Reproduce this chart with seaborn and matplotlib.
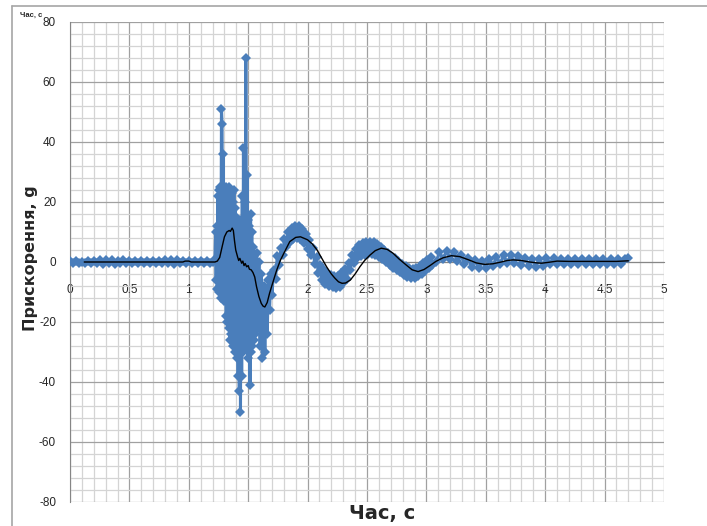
import numpy as np
import pandas as pd
import matplotlib
matplotlib.use("Agg")
import matplotlib.pyplot as plt
from matplotlib.ticker import MultipleLocator
from matplotlib.lines import Line2D
import seaborn as sns

seg1_start, seg1_step = 0.0, 0.025
seg1_vals = [0.3, -0.3, 0.2, -0.4, 0.1, -0.2, 0.3, -0.3, 0.4, -0.2, 0.6, -0.5, 0.8,
             -0.4, 0.7, -0.6, 0.5, -0.3, 0.6, -0.4, 0.3, -0.3, 0.2, -0.2, 0.2, -0.3,
             0.3, -0.2, 0.2, -0.3, 0.3, -0.2, 0.6, -0.4, 0.8, -0.5, 0.6, -0.4, 0.5,
             -0.2, 0.2, -0.3, 0.3, -0.2, 0.2, -0.3, 0.2, -0.2, 0.1]

seg2_start, seg2_step = 1.22, 0.005
seg2_vals = [1, 10, -6, 12, -9, 22, -10, 24, -8, 25, -12, 51, 46, -10, 36, -13, 24,
             -12, 25, -18, 23, -20, 24, -22, 25, -26, 22, -24, 23, -26, 20, -28, 24,
             -30, 18, -25, 15, -32, 12, -38, 10, -43, 14, -50, 6, -38, 22, -30, 38,
             -26, 20, -20, 68, -28, 29, -32, 14, -25, 12, -41, 16, -30, 10, -28, 5,
             -26, 2, -24, -5]

seg3_start, seg3_step = 1.57, 0.01
seg3_vals = [3, -22, 0, -28, -4, -32, -8, -30, -10, -24, -6, -16, -4]

seg4_start, seg4_step = 1.70, 0.015
seg4_vals = [-11, -2.5, -5.5, 2, -1, 4.8, 2.5, 7.8, 5, 10, 6.8, 11.3, 7.6, 11.9, 8,
             11.9, 7.7, 11.1, 6.3, 9.3, 4.3, 7.3, 2.2, 4.7, -0.8, 1.7, -3.7, -0.9,
             -6, -2.6, -7.2, -3.6, -7.9, -4.2, -8.4, -4.5, -8.6, -4.5, -8.3, -3.7,
             -7, -2.3, -5.5, -0.2, -2.8, 2.5, -0.2, 4.5, 1.2, 5.7, 2.1, 6.3, 2.5,
             6.6, 2.7, 6.8, 2.8, 6.7, 2.5, 5.9, 1.8, 5.0, 1.0, 4.1, 0, 3.1, -1.0,
             2.1, -2.0, 1.2, -2.8, 0.4, -3.4, -0.6, -4.2, -1.4, -4.9, -2.0, -5.4,
             -2.3, -5.4, -1.9, -4.8, -1.2, -3.9, -0.2, -2.9, 0.8, -1.9, 1.8, -1.0]

seg5_start, seg5_step = 3.08, 0.03
seg5_vals = [0, 3.2, 1.0, 3.8, 1.1, 3.4, 0.4, 2.5, -0.6, 1.5, -1.6, 0.7, -2.1, 0.5,
             -1.9, 1.0, -1.2, 1.7, -0.6, 2.2, -0.3, 2.3, -0.4, 2.0, -0.9, 1.5, -1.4,
             1.1, -1.6, 1.1, -1.3, 1.5, -0.6, 1.2, -0.6, 1.1, -0.7, 1.1, -0.7, 1.0,
             -0.8, 1.1, -0.7, 1.0, -0.8, 1.1, -0.7, 1.0, -0.8, 1.0, -0.7, 1.1, -0.6,
             1.0, 1.2]

# smoothed curve (black)
smooth_t = [0.12, 0.50, 0.95, 0.97, 1.00, 1.02, 1.22, 1.24, 1.26, 1.28, 1.30, 1.32,
            1.34, 1.35, 1.365, 1.375, 1.385, 1.395, 1.41, 1.42, 1.43, 1.445, 1.455,
            1.465, 1.475, 1.487, 1.50, 1.51, 1.525, 1.54, 1.555, 1.57, 1.59, 1.61,
            1.625, 1.64, 1.66, 1.68, 1.71, 1.74, 1.77, 1.80, 1.85, 1.90, 1.94, 2.00,
            2.04, 2.08, 2.12, 2.16, 2.20, 2.23, 2.26, 2.29, 2.32, 2.36, 2.40, 2.44,
            2.48, 2.525, 2.57, 2.62, 2.67, 2.72, 2.77, 2.83, 2.88, 2.93, 2.98, 3.03,
            3.08, 3.14, 3.21, 3.28, 3.35, 3.42, 3.49, 3.56, 3.63, 3.68, 3.73, 3.80,
            3.87, 3.93, 3.97, 4.03, 4.10, 4.20, 4.40, 4.60, 4.70]
smooth_a = [0, 0, 0, 0.3, 0.3, 0, 0, 0.3, 1.5, 5, 8.4, 10, 10.5, 10.2, 11.3, 10.5, 7,
            4, 1.8, 0.5, 1.2, -0.4, 0.3, -1.2, -0.5, -1.6, -1.2, -2.4, -2.6, -3.5, -5,
            -8.2, -11.5, -13.8, -14.7, -15, -13.5, -10.4, -6.5, -2.7, 0.5, 2.9, 6.8,
            8.2, 8.4, 7.4, 6, 4.0, 1.2, -1.6, -4, -5.4, -6.6, -7.1, -7, -6, -4, -1.6,
            0.5, 2.3, 3.8, 4.6, 4.2, 2.9, 1, -1.0, -2.6, -3.2, -2.5, -1.2, 0.2, 1.4,
            2.1, 1.8, 0.8, -0.3, -0.8, -0.6, 0, 0.5, 0.7, 0.5, 0, -0.3, -0.4, -0.1,
            0.3, 0.2, 0.2, 0.2, 0.4]

x_ticks = [0, 0.5, 1, 1.5, 2, 2.5, 3, 3.5, 4, 4.5, 5]
x_ticklabels = ["0", "0.5", "1", "1.5", "2", "2.5", "3", "3.5", "4", "4.5", "5"]
y_ticks = [-80, -60, -40, -20, 0, 20, 40, 60, 80]

segments = [(seg1_start, seg1_step, seg1_vals), (seg2_start, seg2_step, seg2_vals),
            (seg3_start, seg3_step, seg3_vals), (seg4_start, seg4_step, seg4_vals),
            (seg5_start, seg5_step, seg5_vals)]
t_all, a_all = [], []
for start, step, vals in segments:
    t_all += list(start + step * np.arange(len(vals)))
    a_all += vals
raw = pd.DataFrame({"t": t_all, "a": a_all})
smooth = pd.DataFrame({"t": smooth_t, "a": smooth_a})

sns.set_style("white")
plt.rcParams["font.family"] = ["Liberation Sans", "DejaVu Sans"]
plt.rcParams["axes.unicode_minus"] = False

fig = plt.figure(figsize=(7.07, 5.26), dpi=100)
ax = fig.add_axes([70 / 707, 24 / 526, 594 / 707, 480 / 526])

sns.lineplot(data=raw, x="t", y="a", sort=False, estimator=None, ax=ax,
             color="#4a7ebb", linewidth=2.2, marker="D", markersize=5,
             markeredgewidth=0, zorder=3)
sns.lineplot(data=smooth, x="t", y="a", sort=False, estimator=None, ax=ax,
             color="black", linewidth=1.0, zorder=4)

ax.set_xlim(0, 5)
ax.set_ylim(-80, 80)
ax.set_xticks(x_ticks)
ax.set_xticklabels(x_ticklabels)
ax.set_yticks(y_ticks)
ax.xaxis.set_minor_locator(MultipleLocator(0.1))
ax.yaxis.set_minor_locator(MultipleLocator(4))
ax.set_axisbelow(True)
ax.grid(which="minor", color="#d4d4d4", linewidth=0.9)
ax.grid(which="major", color="#a0a0a0", linewidth=0.9)

for side in ["top", "right"]:
    ax.spines[side].set_visible(False)
ax.spines["bottom"].set_position(("data", 0))
ax.spines["bottom"].set_color("#868686")
ax.spines["left"].set_color("#868686")
ax.tick_params(axis="x", which="major", length=3, pad=13, labelsize=8.5,
               color="#868686", direction="out")
ax.tick_params(axis="y", which="major", length=3, pad=7, labelsize=8.5,
               color="#868686", direction="out")
ax.tick_params(which="minor", length=0)
ax.set_xlabel("")
ax.set_ylabel("")

fig.text(31 / 707, 1 - 258 / 526, "Прискорення, g", rotation=90, fontsize=11.5,
         fontweight="bold", family="DejaVu Sans", ha="center", va="center")
fig.text(382 / 707, 1 - 513 / 526, "Час, с", fontsize=14, fontweight="bold",
         family="DejaVu Sans", ha="center", va="center")
fig.text(20 / 707, 1 - 15 / 526, "Час, с", fontsize=5.5, fontweight="bold",
         ha="left", va="center")

# chart area border
fig.add_artist(Line2D([12 / 707, 12 / 707], [0, 1 - 6 / 526], color="#a6a6a6",
                      linewidth=1.2, transform=fig.transFigure))
fig.add_artist(Line2D([12 / 707, 1], [1 - 6 / 526, 1 - 6 / 526], color="#a6a6a6",
                      linewidth=1.2, transform=fig.transFigure))

fig.savefig("out.png", dpi=100)
